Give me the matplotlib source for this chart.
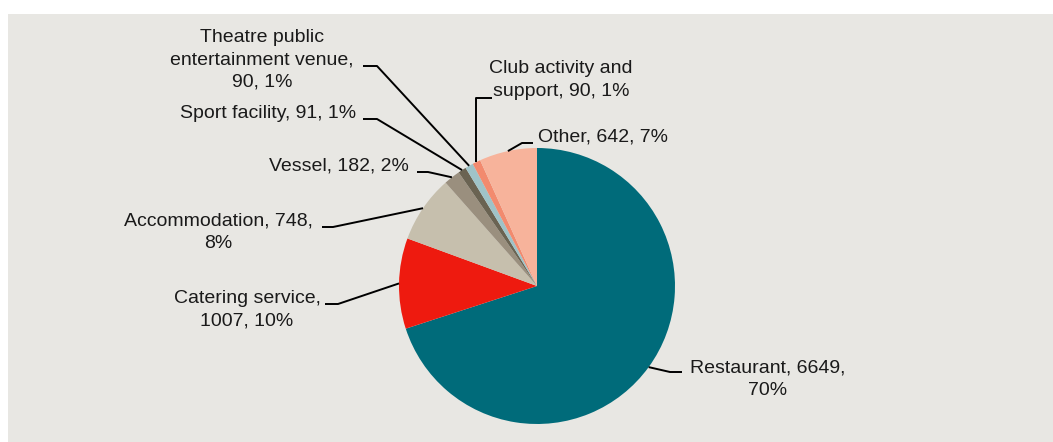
import matplotlib
matplotlib.use('Agg')
import matplotlib.pyplot as plt
import numpy as np
from matplotlib.patches import Rectangle

plt.rcParams['font.family'] = ['Liberation Sans', 'DejaVu Sans']

# premises types, clockwise from 12 o'clock
names = ['Restaurant', 'Catering service', 'Accommodation', 'Vessel',
         'Sport facility', 'Theatre public\nentertainment venue',
         'Club activity and\nsupport', 'Other']
counts = [6649, 1007, 748, 182, 91, 90, 90, 642]
pcts = [70, 10, 8, 2, 1, 1, 1, 7]
colors = ['#006b7a', '#ee1a0f', '#c6bfad', '#9a8f7e', '#6a6352',
          '#9fc3c8', '#f28a6e', '#f7b39b']

W, H = 1053, 442
fig = plt.figure(figsize=[W / 100, H / 100], dpi=100)
fig.patch.set_facecolor('white')
fig.patches.append(Rectangle((8 / W, 0), 1 - 8 / W, 1 - 14 / H,
                             transform=fig.transFigure, facecolor='#e8e7e3',
                             edgecolor='none', zorder=-10))

ax = fig.add_axes([0, 0, 1, 1])
ax.patch.set_alpha(0)


def py(y):
    # pixel row -> data y
    return H - y


cx, cy, rad = 537, py(286), 138
wedges, _ = ax.pie(counts, colors=colors, startangle=90, counterclock=False,
                   center=(cx, cy), radius=rad, frame=True,
                   wedgeprops=dict(linewidth=0))
ax.set_xlim(0, W)
ax.set_ylim(0, H)
ax.set_aspect('equal')
ax.axis('off')

# how each label breaks over lines
templates = ['{name}, {n},\n{p}%', '{name},\n{n}, {p}%', '{name}, {n},\n{p}%',
             '{name}, {n}, {p}%', '{name}, {n}, {p}%', '{name},\n{n}, {p}%',
             '{name}, {n}, {p}%', '{name}, {n}, {p}%']

# label centre and leader start/elbow (in pixels)
label_pos = [(768, 379), (247, 310), (218, 232), (339, 166),
             (268, 113), (262, 60), (561, 80), (603, 137)]
leader = [[(682, 372), (670, 372)],
          [(325, 304), (338, 304)],
          [(322, 227), (333, 227)],
          [(417, 172), (428, 172)],
          [(363, 119), (377, 119)],
          [(363, 66), (377, 66)],
          [(492, 98), (477, 98)],
          [(533, 143), (522, 143)]]

for w, name, n, p, tpl, (lx, ly), pts in zip(wedges, names, counts, pcts,
                                              templates, label_pos, leader):
    ax.text(lx, py(ly), tpl.format(name=name, n=n, p=p), ha='center',
            va='center', ma='center', fontsize=14, color='#1a1a1a',
            linespacing=1.42)

    mid = np.deg2rad((w.theta1 + w.theta2) / 2)
    ex, ey = cx + rad * np.cos(mid), cy + rad * np.sin(mid)
    xs = [pts[0][0], pts[1][0], ex]
    ys = [py(pts[0][1]), py(pts[1][1]), ey]
    if name.startswith('Club'):
        # this one drops straight down onto the slice
        xs[1] = xs[2] = ex
    ax.plot(xs, ys, color='black', lw=1.4, solid_capstyle='butt')

fig.savefig('out.png', dpi=100, facecolor=fig.get_facecolor())
